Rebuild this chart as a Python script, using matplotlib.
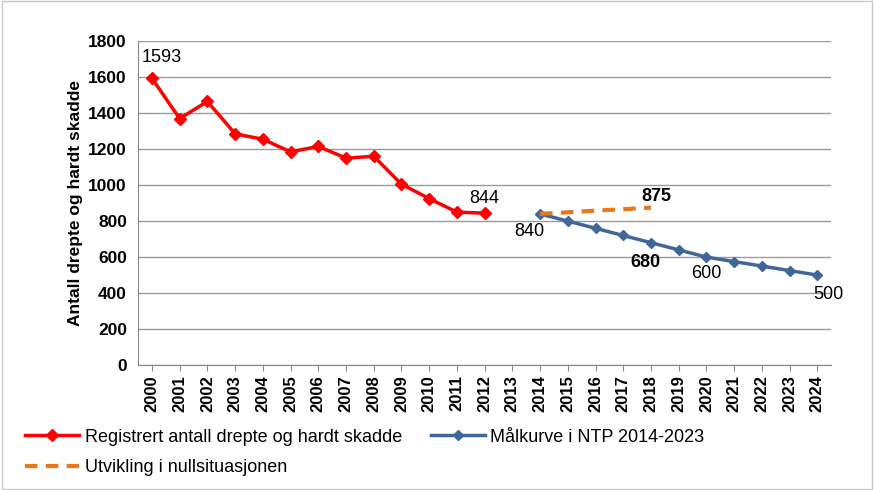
import numpy as np
import matplotlib.pyplot as plt

plt.rcParams['font.family'] = ['Liberation Sans Narrow', 'Liberation Sans', 'DejaVu Sans']

years = [str(y) for y in range(2000, 2025)]

# registered killed and seriously injured 2000-2012
reg_years = list(range(2000, 2013))
reg_vals = [1593, 1370, 1465, 1285, 1255, 1185, 1215, 1150, 1160, 1005, 925, 850, 844]

# target curve NTP 2014-2023
goal_years = list(range(2014, 2025))
goal_vals = [840, 800, 760, 720, 680, 640, 600, 575, 550, 525, 500]

# zero situation development
null_years = list(range(2014, 2019))
null_vals = [840, 849, 858, 866, 875]

def xpos(yrs):
    return [y - 2000 for y in yrs]

fig = plt.figure(figsize=(8.74, 4.9), dpi=100)
ax = fig.add_axes([0.158, 0.255, 0.793, 0.661])

h_reg, = ax.plot(xpos(reg_years), reg_vals, color='#ff0000', lw=2.5, marker='D', ms=6,
                 label='Registrert antall drepte og hardt skadde', zorder=3)
h_goal, = ax.plot(xpos(goal_years), goal_vals, color='#41669a', lw=2.5, marker='D', ms=5.5,
                  label='Målkurve i NTP 2014-2023', zorder=3)
h_null, = ax.plot(xpos(null_years), null_vals, color='#e8781e', lw=3, ls=(0, (3, 2)),
                  label='Utvikling i nullsituasjonen', zorder=4)

ax.set_xlim(-0.5, 24.5)
ax.set_ylim(0, 1800)
ax.set_yticks(range(0, 1801, 200))
ax.set_xticks(range(len(years)))
ax.set_xticklabels(years, rotation=90, fontweight='bold', fontsize=12)
for t in ax.get_yticklabels():
    t.set_fontweight('bold')
    t.set_fontsize(12.5)
ax.tick_params(axis='x', length=4, color='#888888')
ax.tick_params(axis='y', length=0, pad=8)
ax.grid(axis='y', color='#9a9a9a', lw=1)
ax.set_axisbelow(True)
for s in ['top', 'right']:
    ax.spines[s].set_visible(False)
ax.spines['left'].set_color('#888888')
ax.spines['bottom'].set_color('#888888')

ax.set_ylabel('Antall drepte og hardt skadde', fontweight='bold', fontsize=12.5)

# data labels
ax.text(0.35, 1660, '1593', ha='center', va='bottom', fontsize=13)
ax.text(12, 880, '844', ha='center', va='bottom', fontsize=13)
ax.text(13.6, 790, '840', ha='center', va='top', fontsize=13)
ax.text(18.2, 890, '875', ha='center', va='bottom', fontsize=13, fontweight='bold')
ax.text(17.8, 615, '680', ha='center', va='top', fontsize=13, fontweight='bold')
ax.text(20, 555, '600', ha='center', va='top', fontsize=13)
ax.text(24.4, 440, '500', ha='center', va='top', fontsize=13)

fig.legend([h_reg, h_null, h_goal], [h_reg.get_label(), h_null.get_label(), h_goal.get_label()],
           loc='lower left', bbox_to_anchor=(0.01, -0.005), ncol=2, frameon=False,
           fontsize=13, handlelength=3, columnspacing=1.6, labelspacing=0.75,
           handletextpad=0.3)

fig.patches.append(plt.Rectangle((0.002, 0.002), 0.996, 0.996, transform=fig.transFigure,
                                 fill=False, edgecolor='#c8c8c8', lw=1))

fig.savefig('out.png', dpi=100)
